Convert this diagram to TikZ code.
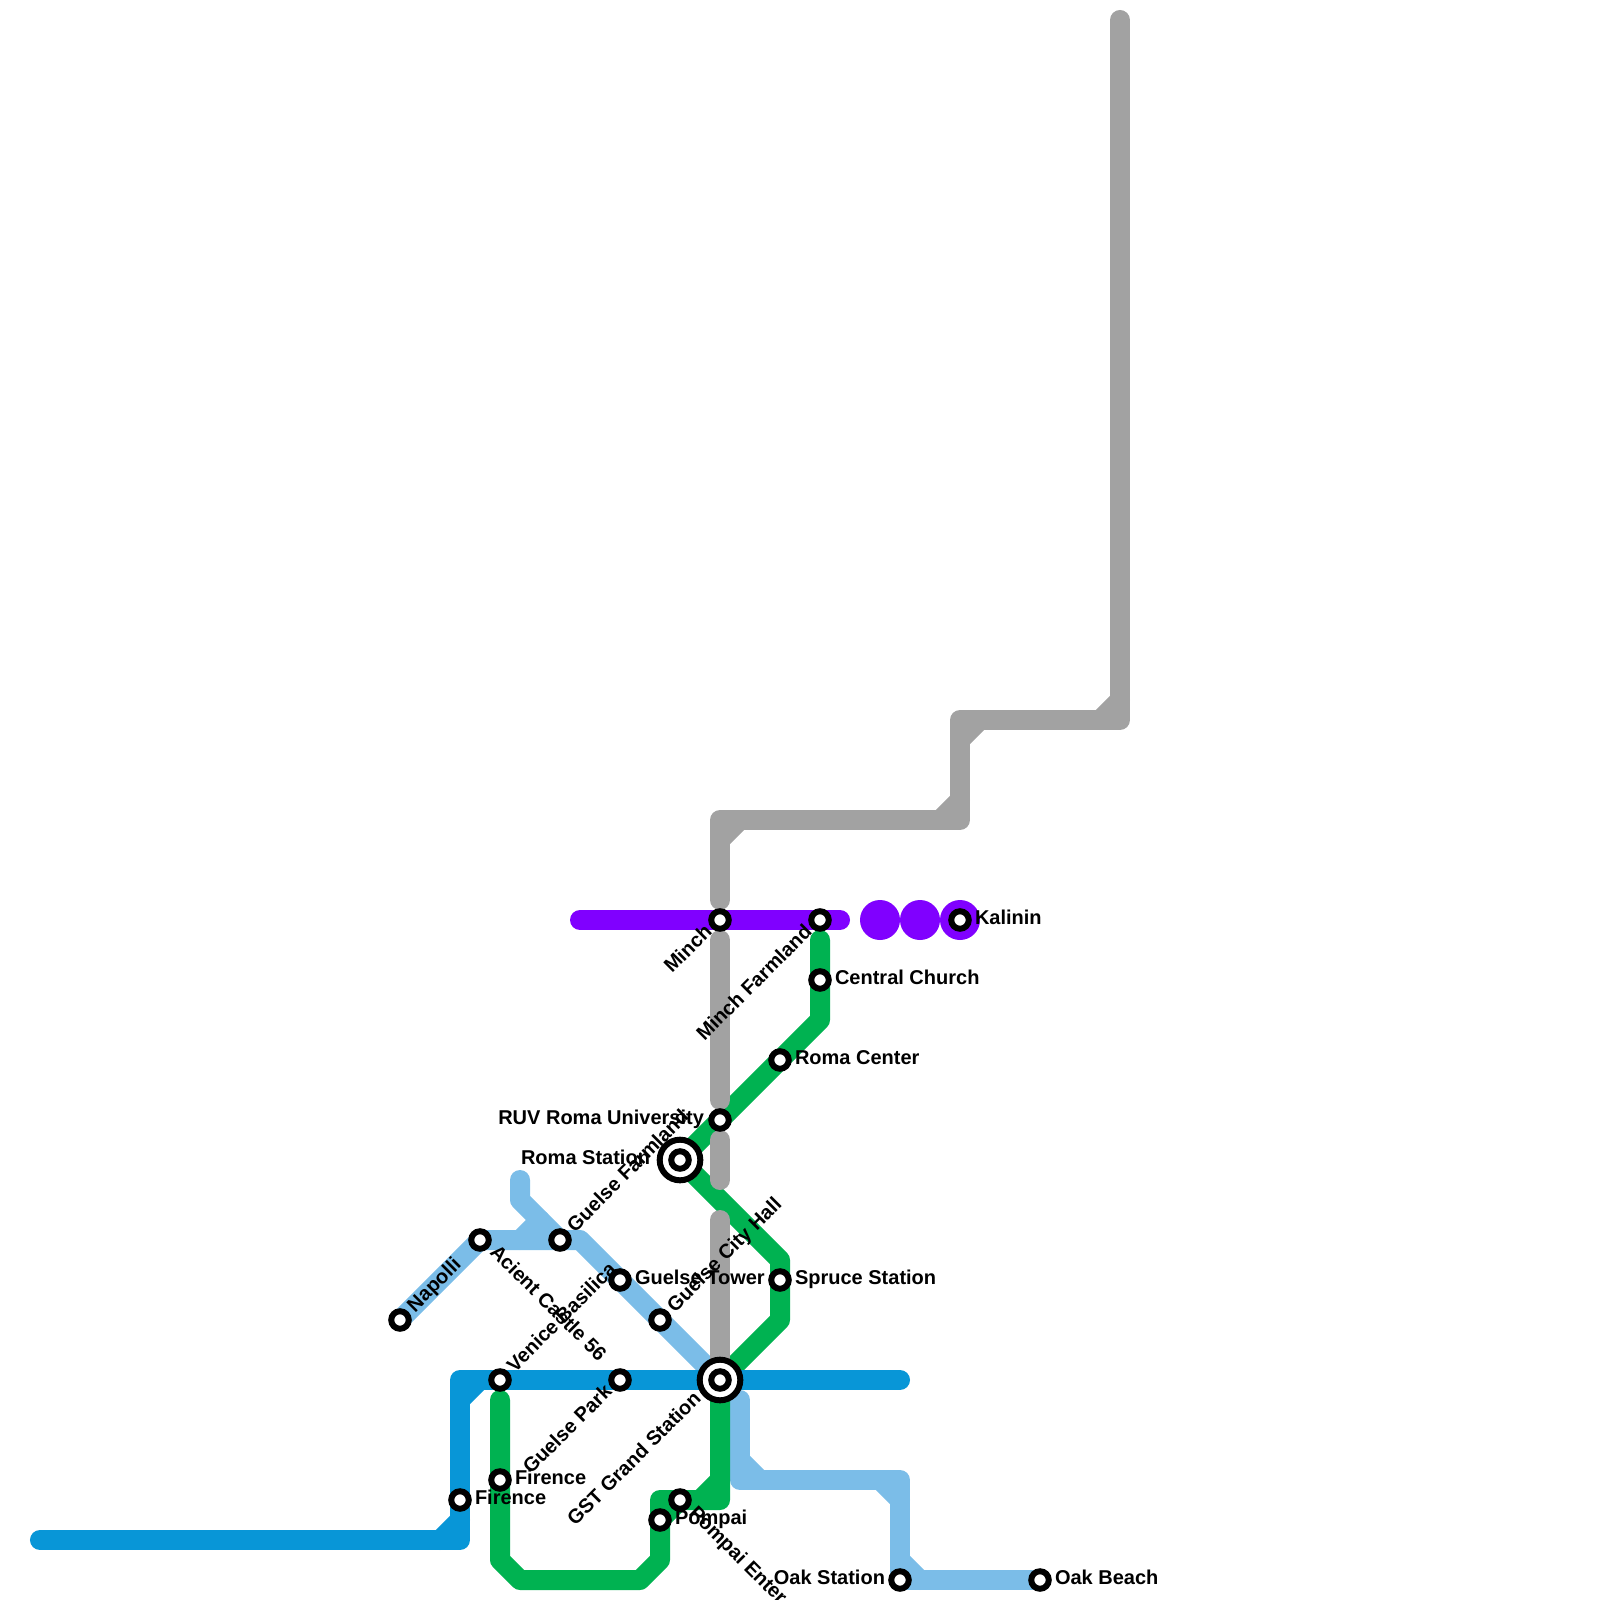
\documentclass[tikz,border=0pt]{standalone}
\usepackage{fontspec}
\setmainfont{Liberation Sans}
\definecolor{lblue}{HTML}{7BBDE8}
\definecolor{mblue}{HTML}{0896D7}
\definecolor{mgreen}{HTML}{00B251}
\definecolor{mgray}{HTML}{A2A2A2}
\definecolor{mpurple}{HTML}{8000FF}
\tikzset{
  metro/.style={line width=2mm,line cap=round,line join=round},
  stn/.style={circle,draw=black,fill=white,line width=0.6mm,minimum size=1.75mm,inner sep=0pt,outer sep=0pt},
  hub/.style={circle,draw=black,fill=white,line width=0.6mm,minimum size=4.06mm,inner sep=0pt,outer sep=0pt},
  lab/.style={font=\fontsize{5.69pt}{7pt}\selectfont\bfseries,inner sep=0pt,outer sep=0pt,text=black},
  lr/.style={lab,anchor=base west},
  ll/.style={lab,anchor=base east},
  ur/.style={lab,anchor=base west,rotate=45},
  ul/.style={lab,anchor=base east,rotate=45},
  dr/.style={lab,anchor=base west,rotate=-45},
}
\begin{document}
\begin{tikzpicture}[x=0.01cm,y=-0.01cm]
\useasboundingbox (0,0) rectangle (1600,1600);
% light blue
\draw[metro,lblue] (400,1320) -- (480,1240) -- (580,1240) -- (720,1380);
\draw[metro,lblue] (520,1180) -- (520,1200) -- (560,1240);
\draw[metro,lblue] (520,1240) -- (540,1220);
\draw[metro,lblue] (740,1400) -- (740,1480) -- (900,1480) -- (900,1580) -- (1040,1580);
\draw[metro,lblue] (740,1460) -- (760,1480);
\draw[metro,lblue] (880,1480) -- (900,1500);
\draw[metro,lblue] (900,1560) -- (920,1580);
% green
\draw[metro,mgreen] (820,940) -- (820,1020) -- (680,1160) -- (780,1260) -- (780,1320) -- (720,1380)
  -- (720,1500) -- (660,1500) -- (660,1560) -- (640,1580) -- (520,1580) -- (500,1560) -- (500,1400);
\draw[metro,mgreen] (720,1480) -- (700,1500);
\draw[metro,mgreen] (660,1520) -- (680,1500);
% gray
\draw[metro,mgray] (1120,20) -- (1120,720) -- (960,720) -- (960,820) -- (720,820) -- (720,900);
\draw[metro,mgray] (1120,700) -- (1100,720);
\draw[metro,mgray] (960,740) -- (980,720);
\draw[metro,mgray] (960,800) -- (940,820);
\draw[metro,mgray] (720,840) -- (740,820);
\draw[metro,mgray] (720,940) -- (720,1100);
\draw[metro,mgray] (720,1140) -- (720,1180);
\draw[metro,mgray] (720,1220) -- (720,1380);
% blue
\draw[metro,mblue] (40,1540) -- (460,1540) -- (460,1380) -- (900,1380);
\draw[metro,mblue] (460,1400) -- (480,1380);
\draw[metro,mblue] (460,1520) -- (440,1540);
% purple
\draw[metro,mpurple] (580,920) -- (840,920);
\fill[mpurple] (880,920) circle (20) (920,920) circle (20) (960,920) circle (20);
% stations
\node[stn] (napolli) at (400,1320) {};
\node[stn] (acient) at (480,1240) {};
\node[stn] (gfarm) at (560,1240) {};
\node[stn] (gtower) at (620,1280) {};
\node[stn] (gcity) at (660,1320) {};
\node[stn] (venice) at (500,1380) {};
\node[stn] (gpark) at (620,1380) {};
\node[hub] (gst) at (720,1380) {};
\node[stn] (gst2) at (720,1380) {};
\node[hub] (roma) at (680,1160) {};
\node[stn] (roma2) at (680,1160) {};
\node[stn] (ruv) at (720,1120) {};
\node[stn] (minch) at (720,920) {};
\node[stn] (mfarm) at (820,920) {};
\node[stn] (central) at (820,980) {};
\node[stn] (rcenter) at (780,1060) {};
\node[stn] (spruce) at (780,1280) {};
\node[stn] (kalinin) at (960,920) {};
\node[stn] (fir1) at (500,1480) {};
\node[stn] (fir2) at (460,1500) {};
\node[stn] (pompai) at (660,1520) {};
\node[stn] (pent) at (680,1500) {};
\node[stn] (oaks) at (900,1580) {};
\node[stn] (oakb) at (1040,1580) {};
% labels
\node[lr] at (1055,1584.5) (l1) {Oak Beach};
\node[ll] at (885,1584.5) (l2) {Oak Station};
\node[lr] at (975,924.5) (l3) {Kalinin};
\node[lr] at (835,984.5) (l4) {Central Church};
\node[lr] at (795,1064.5) (l5) {Roma Center};
\node[lr] at (795,1284.5) (l6) {Spruce Station};
\node[lr] at (635,1284.5) (l7) {Guelse Tower};
\node[lr] at (515,1484.5) (l8) {Firence};
\node[lr] at (475,1504.5) (l9) {Firence};
\node[lr] at (675,1524.5) (l10) {Pompai};
\node[ll] at (704,1124.5) (l11) {RUV Roma University};
\node[ll] at (650,1164.5) (l12) {Roma Station};
\node[ur] at (575,1233) (l13) {Guelse Farmland};
\node[ur] at (675,1313) (l14) {Guelse City Hall};
\node[ur] at (515,1373) (l15) {Venice Basilica};
\node[ur] at (415,1313) (l16) {Napolli};
\node[ul] at (713,933) (l17) {Minch};
\node[ul] at (813,933) (l18) {Minch Farmland};
\node[ul] at (613,1393) (l19) {Guelse Park};
\node[ul] at (702,1400) (l20) {GST Grand Station};
\node[dr] at (489,1253) (l21) {Acient Castle 56};
\node[dr] at (688,1514) (l22) {Pompai Enter};
\end{tikzpicture}
\end{document}
